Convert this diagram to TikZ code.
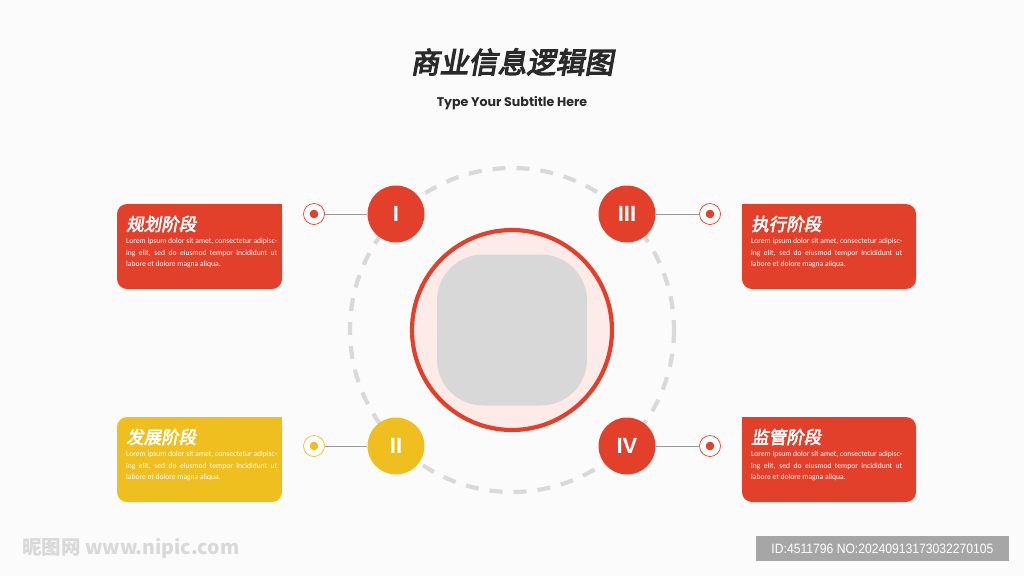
\documentclass[tikz,border=0pt]{standalone}
\usepackage{fontspec}
\setmainfont{Poppins}
\newfontfamily\cjk{Noto Sans CJK SC}[FakeSlant=0.18,FakeBold=4]
\newfontfamily\cjkh{Noto Sans CJK SC}[FakeSlant=0.18,FakeBold=3]
\newfontfamily\bodyfont{Carlito}
\newfontfamily\numfont{Liberation Sans}
\newfontfamily\wmfont{Noto Sans CJK SC}
\definecolor{bg}{HTML}{FBFBFB}
\definecolor{mred}{HTML}{E3402B}
\definecolor{myel}{HTML}{EFBE1F}
\definecolor{mpink}{HTML}{FDEBEA}
\definecolor{mgray}{HTML}{D8D8D8}
\definecolor{dgray}{HTML}{D9D9D9}
\definecolor{ttl}{HTML}{2A2A2A}
\definecolor{lgray}{HTML}{9A9A9A}
\tikzset{
  numc/.style={circle, minimum size=57, inner sep=0, font=\numfont\bfseries\fontsize{22}{22}\selectfont, text=white},
  dotc/.style={circle, minimum size=21, inner sep=0, line width=0.7, fill=white},
  conn/.style={draw=lgray, line width=0.9},
  head/.style={anchor=west, inner sep=0, text=white, font=\cjkh\fontsize{17.5}{19}\selectfont},
  body/.style={anchor=north west, inner sep=0, text=white, font=\bodyfont\fontsize{7.6}{11.7}\selectfont, align=left},
}
\newcommand{\bodytext}{\makebox[151pt][s]{Lorem ipsum dolor sit amet, consectetur adipisc-}\\\makebox[151pt][s]{ing elit, sed do eiusmod tempor incididunt ut}\\labore et dolore magna aliqua.}
\begin{document}
\begin{tikzpicture}[x=1pt,y=-1pt]
\useasboundingbox (0,0) rectangle (1024,576);
\fill[bg] (0,0) rectangle (1024,576);
% title
\node[text=ttl, font=\cjk\fontsize{29}{31}\selectfont, inner sep=0] (title) at (512,62) {商业信息逻辑图};
\node[text=ttl, font=\bfseries\fontsize{12.6}{14}\selectfont, inner sep=0] (sub) at (512,103) {Type Your Subtitle Here};
% dashed ring
\draw[dgray, line width=4.2, dash pattern=on 13 off 11] (512,330) circle (162);
% central circle
\node[circle, minimum size=200, fill=mpink, draw=mred, line width=4.2] (center) at (512,330) {};
\node[rounded corners=46, minimum width=150, minimum height=151, fill=mgray, inner sep=0] (photo) at (512,330) {};
% boxes
\fill[mred, rounded corners=10] (117,204) rectangle (282,289);
\fill[mred] (262,204) rectangle (282,224);
\fill[myel, rounded corners=10] (117,417) rectangle (282,502);
\fill[myel] (262,417) rectangle (282,437);
\fill[mred, rounded corners=10] (742,204) rectangle (916,289);
\fill[mred] (742,204) rectangle (762,224);
\fill[mred, rounded corners=10] (742,417) rectangle (916,502);
\fill[mred] (742,417) rectangle (762,437);
% headings and text
\node[head] (h1) at (126,224) {规划阶段};
\node[body] (b1) at (126,238) {\bodytext};
\node[head] (h2) at (126,437) {发展阶段};
\node[body] (b2) at (126,451) {\bodytext};
\node[head] (h3) at (751,224) {执行阶段};
\node[body] (b3) at (751,238) {\bodytext};
\node[head] (h4) at (751,437) {监管阶段};
\node[body] (b4) at (751,451) {\bodytext};
% number circles
\node[numc, fill=mred] (c1) at (396,214) {I};
\node[numc, fill=myel] (c2) at (396,446) {II};
\node[numc, fill=mred] (c3) at (627,214) {III};
\node[numc, fill=mred] (c4) at (627,446) {IV};
% target dots
\node[dotc, draw=mred] (d1) at (314,214) {};
\fill[mred] (d1.center) circle (4.3);
\node[dotc, draw=myel] (d2) at (314,446) {};
\fill[myel] (d2.center) circle (4.3);
\node[dotc, draw=mred] (d3) at (710,214) {};
\fill[mred] (d3.center) circle (4.3);
\node[dotc, draw=mred] (d4) at (710,446) {};
\fill[mred] (d4.center) circle (4.3);
\draw[conn] (d1) -- (c1);
\draw[conn] (d2) -- (c2);
\draw[conn] (c3) -- (d3);
\draw[conn] (c4) -- (d4);
% watermark
\node[anchor=west, inner sep=0, text=black!15, font=\wmfont\bfseries\fontsize{19.5}{21}\selectfont] (wm) at (22,548) {昵图网 www.nipic.com};
\node[fill=black!35, minimum width=253, minimum height=25, inner sep=0, text=white, font=\numfont\fontsize{13.5}{15}\selectfont] (id) at (882.5,548.5) {\addfontfeatures{FakeStretch=0.9}ID:4511796 NO:20240913173032270105};
\end{tikzpicture}
\end{document}
